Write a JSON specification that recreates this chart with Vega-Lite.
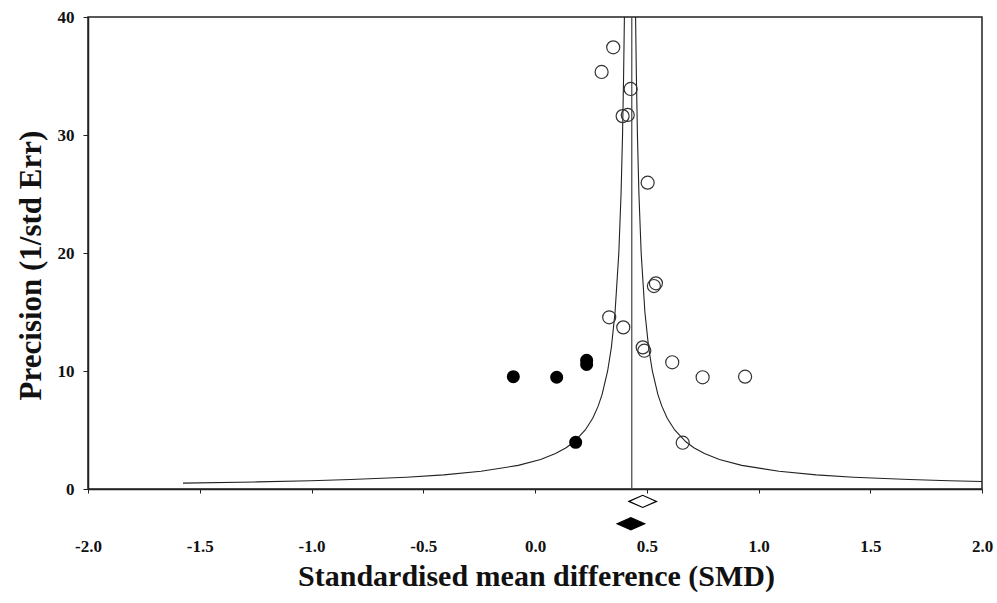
{
  "$schema": "https://vega.github.io/schema/vega-lite/v6.json",
  "autosize": "none",
  "width": 894,
  "height": 472,
  "padding": {"left": 88, "top": 17, "right": 15, "bottom": 114},
  "background": "white",
  "config": {
    "view": {"stroke": "#222", "strokeWidth": 1.5},
    "axis": {"grid": false, "domainColor": "#222", "domainWidth": 1.5, "tickColor": "#222", "labelFont": "Liberation Serif", "labelFontWeight": "bold", "labelFontSize": 17, "labelColor": "#111", "titleFont": "Liberation Serif", "titleFontWeight": "bold", "titleColor": "#111"}
  },
  "datasets": {
    "curve": [
      {"branch": "L", "p": 0.5, "smd": -1.575},
      {"branch": "L", "p": 0.6, "smd": -1.2417},
      {"branch": "L", "p": 0.7, "smd": -1.0036},
      {"branch": "L", "p": 0.8, "smd": -0.825},
      {"branch": "L", "p": 1.0, "smd": -0.575},
      {"branch": "L", "p": 1.2, "smd": -0.4083},
      {"branch": "L", "p": 1.5, "smd": -0.2417},
      {"branch": "L", "p": 2.0, "smd": -0.075},
      {"branch": "L", "p": 2.5, "smd": 0.025},
      {"branch": "L", "p": 3.0, "smd": 0.0917},
      {"branch": "L", "p": 3.5, "smd": 0.1393},
      {"branch": "L", "p": 4.0, "smd": 0.175},
      {"branch": "L", "p": 5.0, "smd": 0.225},
      {"branch": "L", "p": 6.0, "smd": 0.2583},
      {"branch": "L", "p": 7.0, "smd": 0.2821},
      {"branch": "L", "p": 8.0, "smd": 0.3},
      {"branch": "L", "p": 10.0, "smd": 0.325},
      {"branch": "L", "p": 12.0, "smd": 0.3417},
      {"branch": "L", "p": 15.0, "smd": 0.3583},
      {"branch": "L", "p": 20.0, "smd": 0.375},
      {"branch": "L", "p": 25.0, "smd": 0.385},
      {"branch": "L", "p": 30.0, "smd": 0.3917},
      {"branch": "L", "p": 35.0, "smd": 0.3964},
      {"branch": "L", "p": 40.0, "smd": 0.4},
      {"branch": "R", "p": 0.635, "smd": 2.0},
      {"branch": "R", "p": 0.7, "smd": 1.8536},
      {"branch": "R", "p": 0.8, "smd": 1.675},
      {"branch": "R", "p": 1.0, "smd": 1.425},
      {"branch": "R", "p": 1.2, "smd": 1.2583},
      {"branch": "R", "p": 1.5, "smd": 1.0917},
      {"branch": "R", "p": 2.0, "smd": 0.925},
      {"branch": "R", "p": 2.5, "smd": 0.825},
      {"branch": "R", "p": 3.0, "smd": 0.7583},
      {"branch": "R", "p": 3.5, "smd": 0.7107},
      {"branch": "R", "p": 4.0, "smd": 0.675},
      {"branch": "R", "p": 5.0, "smd": 0.625},
      {"branch": "R", "p": 6.0, "smd": 0.5917},
      {"branch": "R", "p": 7.0, "smd": 0.5679},
      {"branch": "R", "p": 8.0, "smd": 0.55},
      {"branch": "R", "p": 10.0, "smd": 0.525},
      {"branch": "R", "p": 12.0, "smd": 0.5083},
      {"branch": "R", "p": 15.0, "smd": 0.4917},
      {"branch": "R", "p": 20.0, "smd": 0.475},
      {"branch": "R", "p": 25.0, "smd": 0.465},
      {"branch": "R", "p": 30.0, "smd": 0.4583},
      {"branch": "R", "p": 35.0, "smd": 0.4536},
      {"branch": "R", "p": 40.0, "smd": 0.45}
    ],
    "observed": [
      {"smd": 0.350, "prec": 37.43},
      {"smd": 0.298, "prec": 35.34},
      {"smd": 0.428, "prec": 33.9},
      {"smd": 0.392, "prec": 31.6},
      {"smd": 0.415, "prec": 31.7},
      {"smd": 0.504, "prec": 25.96},
      {"smd": 0.541, "prec": 17.43},
      {"smd": 0.532, "prec": 17.2},
      {"smd": 0.332, "prec": 14.55},
      {"smd": 0.395, "prec": 13.7},
      {"smd": 0.482, "prec": 12.0},
      {"smd": 0.489, "prec": 11.72},
      {"smd": 0.614, "prec": 10.74},
      {"smd": 0.750, "prec": 9.47},
      {"smd": 0.940, "prec": 9.52},
      {"smd": 0.661, "prec": 3.92}
    ],
    "imputed": [
      {"smd": -0.097, "prec": 9.52},
      {"smd": 0.097, "prec": 9.47},
      {"smd": 0.231, "prec": 10.55},
      {"smd": 0.231, "prec": 10.9},
      {"smd": 0.182, "prec": 3.96}
    ],
    "summary": [
      {"smd": 0.482, "prec": -1.05, "kind": "observed"},
      {"smd": 0.429, "prec": -2.95, "kind": "adjusted"}
    ],
    "mean": [{"smd": 0.433}]
  },
  "layer": [
    {
      "data": {"name": "curve"},
      "mark": {"type": "line", "color": "#222", "strokeWidth": 1.1, "clip": true},
      "encoding": {
        "x": {"field": "smd", "type": "quantitative", "scale": {"domain": [-2, 2], "nice": false, "zero": false},
          "axis": {"values": [-2, -1.5, -1, -0.5, 0, 0.5, 1, 1.5, 2], "labelExpr": "replace(format(datum.value, '.1f'), '\u2212', '-')", "labelFlush": false, "labelOverlap": false, "tickSize": 4, "labelPadding": 45, "labelBaseline": "top",
            "title": "Standardised mean difference (SMD)", "titleFontSize": 30, "titleBaseline": "alphabetic", "titleX": 448, "titleY": 96, "titleAlign": "center"}},
        "y": {"field": "p", "type": "quantitative", "scale": {"domain": [0, 40], "nice": false, "zero": false},
          "axis": {"values": [0, 10, 20, 30, 40], "format": "d", "tickSize": 5, "labelPadding": 9,
            "title": "Precision (1/std Err)", "titleFontSize": 31, "titleBaseline": "alphabetic", "titleAngle": -90, "titleX": -48, "titleY": 248, "titleAlign": "center"}},
        "detail": {"field": "branch"},
        "order": {"field": "p", "type": "quantitative"}
      }
    },
    {
      "data": {"name": "mean"},
      "mark": {"type": "rule", "color": "#444", "strokeWidth": 1.2},
      "encoding": {"x": {"field": "smd", "type": "quantitative"}}
    },
    {
      "data": {"name": "observed"},
      "mark": {"type": "point", "shape": "circle", "filled": false, "size": 170, "stroke": "#333", "strokeWidth": 1.2, "opacity": 1},
      "encoding": {
        "x": {"field": "smd", "type": "quantitative"},
        "y": {"field": "prec", "type": "quantitative"}
      }
    },
    {
      "data": {"name": "imputed"},
      "mark": {"type": "point", "shape": "circle", "filled": true, "size": 170, "color": "#000", "opacity": 1},
      "encoding": {
        "x": {"field": "smd", "type": "quantitative"},
        "y": {"field": "prec", "type": "quantitative"}
      }
    },
    {
      "data": {"name": "summary"},
      "mark": {"type": "point", "shape": "M-1,0L0,-0.44L1,0L0,0.44Z", "size": 760, "strokeWidth": 1.2, "opacity": 1, "clip": false},
      "encoding": {
        "x": {"field": "smd", "type": "quantitative"},
        "y": {"field": "prec", "type": "quantitative"},
        "fill": {"field": "kind", "type": "nominal", "scale": {"domain": ["observed", "adjusted"], "range": ["#ffffff", "#000000"]}, "legend": null},
        "stroke": {"value": "#000"}
      }
    }
  ]
}
